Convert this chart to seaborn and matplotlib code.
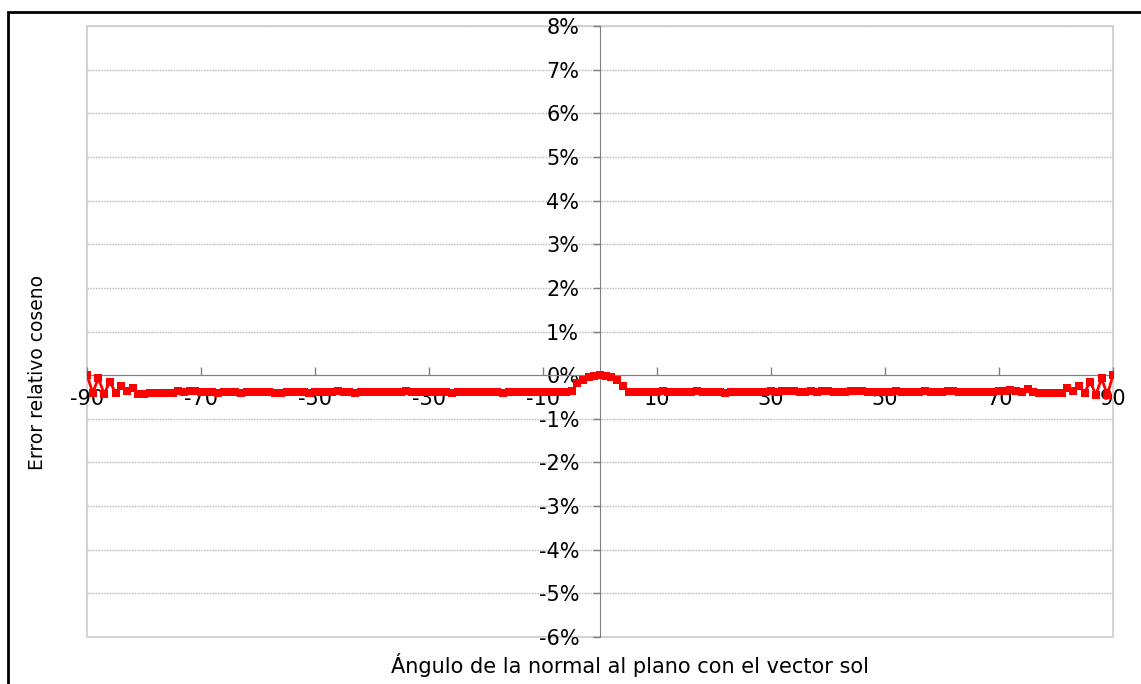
import numpy as np
import pandas as pd
import matplotlib
matplotlib.use("Agg")
import matplotlib.pyplot as plt
import matplotlib.ticker as mticker
from matplotlib.patches import Rectangle
import seaborn as sns

# angle in degrees, relative cosine error in percent
angles = list(range(-90, 91))
error_left = [
    0.00, -0.40, -0.07, -0.43, -0.15, -0.40, -0.25, -0.37, -0.30, -0.44,
    -0.44, -0.42, -0.40, -0.40, -0.41, -0.41, -0.37, -0.39, -0.36, -0.37,
    -0.38, -0.38, -0.39, -0.40, -0.39, -0.39, -0.38, -0.40, -0.39, -0.38,
    -0.39, -0.38, -0.39, -0.40, -0.40, -0.39, -0.38, -0.38, -0.39, -0.40,
    -0.39, -0.38, -0.39, -0.38, -0.37, -0.38, -0.39, -0.40, -0.39, -0.38,
    -0.39, -0.38, -0.38, -0.39, -0.38, -0.38, -0.37, -0.38, -0.39, -0.38,
    -0.38, -0.39, -0.38, -0.39, -0.40, -0.39, -0.38, -0.38, -0.39, -0.38,
    -0.39, -0.38, -0.39, -0.40, -0.39, -0.38, -0.38, -0.39, -0.38, -0.38,
    -0.39, -0.38, -0.39, -0.38, -0.38, -0.37, -0.17, -0.10, -0.04, -0.01,
]
error_center = [0.00]
error_right = [
    -0.01, -0.04, -0.11, -0.25, -0.38, -0.39, -0.38, -0.39, -0.38, -0.38,
    -0.37, -0.38, -0.38, -0.39, -0.38, -0.38, -0.37, -0.38, -0.39, -0.38,
    -0.39, -0.40, -0.39, -0.39, -0.38, -0.38, -0.39, -0.38, -0.38, -0.37,
    -0.38, -0.37, -0.36, -0.37, -0.38, -0.38, -0.37, -0.38, -0.36, -0.37,
    -0.38, -0.39, -0.38, -0.37, -0.36, -0.37, -0.38, -0.39, -0.38, -0.38,
    -0.39, -0.37, -0.38, -0.39, -0.38, -0.38, -0.37, -0.38, -0.39, -0.38,
    -0.37, -0.37, -0.39, -0.38, -0.38, -0.39, -0.38, -0.39, -0.38, -0.37,
    -0.36, -0.35, -0.36, -0.38, -0.31, -0.38, -0.40, -0.40, -0.42, -0.42,
    -0.40, -0.30, -0.37, -0.25, -0.40, -0.15, -0.45, -0.07, -0.45, 0.00,
]
x_ticks = [-90, -70, -50, -30, -10, 10, 30, 50, 70, 90]
y_ticks = [-6, -5, -4, -3, -2, -1, 0, 1, 2, 3, 4, 5, 6, 7, 8]

df = pd.DataFrame({"angle": angles,
                   "error": error_left + error_center + error_right})

sns.set_style("white")
plt.rcParams['font.family'] = ['DejaVu Sans']
plt.rcParams['text.color'] = 'black'
plt.rcParams['xtick.color'] = 'black'
plt.rcParams['ytick.color'] = 'black'

fig = plt.figure(figsize=(11.41, 6.84), dpi=100)
ax = fig.add_axes([87 / 1141, 1 - 637 / 684, 1026 / 1141, 611 / 684])

sns.lineplot(data=df, x="angle", y="error", ax=ax, color="#FF0000",
             marker="s", markersize=5.5, markeredgewidth=0, linewidth=2)

ax.set_xlim(-90, 90)
ax.set_ylim(-6, 8)
ax.set_xticks(x_ticks)
ax.set_yticks(y_ticks)
ax.xaxis.set_major_formatter(mticker.FuncFormatter(lambda v, p: f"{v:.0f}"))
ax.yaxis.set_major_formatter(mticker.FuncFormatter(lambda v, p: f"{v:.0f}%"))
ax.set_xlabel("")
ax.set_ylabel("")

# horizontal gridlines
for yv in y_ticks:
    ax.axhline(yv, color="#b4b4b4", linewidth=1, linestyle=(0, (1, 1)), zorder=0)

# axes crossing at zero
for side in ["top", "right"]:
    ax.spines[side].set_visible(False)
ax.spines["left"].set_position(("data", 0))
ax.spines["bottom"].set_position(("data", 0))
ax.spines["left"].set_color("#808080")
ax.spines["bottom"].set_color("#808080")
ax.spines["left"].set_zorder(1)
ax.spines["bottom"].set_zorder(1)
ax.tick_params(axis="x", direction="in", length=6, width=1, color="#808080",
               labelcolor="black", labelsize=15, pad=10, bottom=True)
ax.tick_params(axis="y", direction="out", length=5, width=1, color="#808080",
               labelcolor="black", labelsize=15, pad=10, left=True)

# plot area border
ax.add_patch(Rectangle((0, 0), 1, 1, transform=ax.transAxes, fill=False,
                       edgecolor="#cccccc", linewidth=1.2, clip_on=False, zorder=0))

# chart border
fig.patches.append(Rectangle((7.5 / 1141, -0.1), 1.2, 0.1 + (1 - 12 / 684),
                             transform=fig.transFigure, fill=False,
                             edgecolor="black", linewidth=2))

fig.text(630 / 1141, 1 - 665 / 684, "Ángulo de la normal al plano con el vector sol",
         ha="center", va="center", fontsize=15, color="black")
fig.text(38 / 1141, 1 - 372 / 684, "Error relativo coseno",
         ha="center", va="center", rotation=90, fontsize=13.5, color="black")

fig.savefig("out.png", dpi=100)
